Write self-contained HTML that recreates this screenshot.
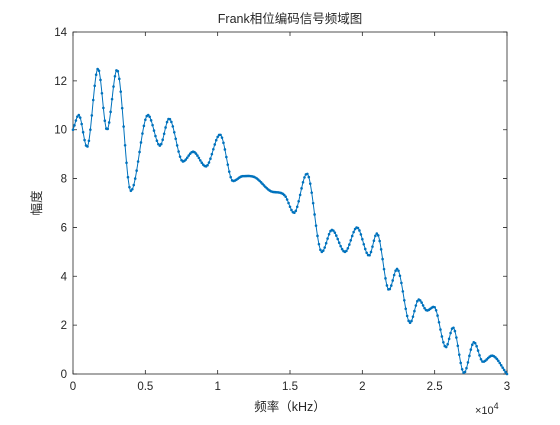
<!DOCTYPE html>
<html><head><meta charset="utf-8"><style>
body{margin:0;background:#fff}
svg text{font-family:"Liberation Sans","Noto Sans CJK SC",sans-serif;fill:#262626}
</style></head><body>
<svg id="c" width="560" height="420" xmlns="http://www.w3.org/2000/svg">
<rect width="560" height="420" fill="#fff"/>
<rect x="73" y="32" width="434" height="342" fill="#fff" stroke="#262626" stroke-width="0.8"/>
<g id="ticks"></g>
<g id="series"></g>
<text x="290" y="23" font-size="12.5" text-anchor="middle">Frank相位编码信号频域图</text>
<text x="290" y="411" font-size="12.5" text-anchor="middle">频率（kHz）</text>
<text transform="translate(41,203) rotate(-90)" font-size="12.5" text-anchor="middle">幅度</text>
<text x="475" y="414" font-size="11">×10<tspan dy="-5" font-size="9">4</tspan></text>
</svg>
<script>
const xKeys=[0,400,970,1730,2350,3040,4000,5180,6010,6640,7600,8300,9190,10160,11060,11750,12580,13620,14650,15280,16170,17200,17900,18800,19630,20460,21010,21840,22400,23300,23900,24470,24950,25780,26270,27030,27720,28340,28960,30000];
const yKeys=[10.0,10.6,9.3,12.5,10.0,12.45,7.5,10.6,9.35,10.45,8.7,9.1,8.5,9.8,7.9,8.1,8.05,7.5,7.3,6.6,8.2,5.0,5.9,5.0,6.0,4.85,5.75,3.45,4.3,2.1,3.05,2.6,2.75,1.1,1.9,0.05,1.3,0.5,0.75,0.0];
const xTickVals=[0,5000,10000,15000,20000,25000,30000];
const xTickLabels=["0","0.5","1","1.5","2","2.5","3"];
const yTickVals=[0,2,4,6,8,10,12,14];
const yTickLabels=["0","2","4","6","8","10","12","14"];
const markerCount=300;
const X0=73,X1=507,Y0=374,Y1=32;
const sx=v=>X0+(v-0)/(30000-0)*(X1-X0);
const sy=v=>Y0-(v-0)/(14-0)*(Y0-Y1);
const NS="http://www.w3.org/2000/svg";
const tg=document.getElementById('ticks');
function mk(t,a,p){const e=document.createElementNS(NS,t);for(const k in a)e.setAttribute(k,a[k]);p.appendChild(e);return e;}
xTickVals.forEach((v,i)=>{const x=sx(v);
 const l=mk('path',{d:`M${x},${Y0}v-4M${x},${Y1}v4`,stroke:'#262626','stroke-width':0.8},tg);
 
 
 const t=mk('text',{x:x,y:Y0+16,'font-size':11.5,'text-anchor':'middle'},tg);t.textContent=xTickLabels[i];
 
 
});
yTickVals.forEach((v,i)=>{const y=sy(v);
 const l=mk('path',{d:`M${X0},${y}h4M${X1},${y}h-4`,stroke:'#262626','stroke-width':0.8},tg);
 
 
 const t=mk('text',{x:X0-6,y:y+4,'font-size':11.5,'text-anchor':'end'},tg);t.textContent=yTickLabels[i];
 
 
});
const n=xKeys.length;
const m=[];
for(let i=0;i<n;i++){
 if(i==0||i==n-1){const j=i==0?1:n-1,k=i==0?0:n-2;m.push((yKeys[j]-yKeys[k])/(xKeys[j]-xKeys[k]));continue;}
 const d0=(yKeys[i]-yKeys[i-1])/(xKeys[i]-xKeys[i-1]),d1=(yKeys[i+1]-yKeys[i])/(xKeys[i+1]-xKeys[i]);
 m.push(d0*d1<=0?0:(d0+d1)/2);
}
function curve(x){
 let i=0;while(i<n-2&&x>xKeys[i+1])i++;
 const h=xKeys[i+1]-xKeys[i],t=(x-xKeys[i])/h,t2=t*t,t3=t2*t;
 return (2*t3-3*t2+1)*yKeys[i]+(t3-2*t2+t)*h*m[i]+(-2*t3+3*t2)*yKeys[i+1]+(t3-t2)*h*m[i+1];
}
const xmin=xKeys[0],xmax=xKeys[n-1];
let d='',pts=[];
for(let k=0;k<=1200;k++){const x=xmin+(xmax-xmin)*k/1200;d+=(k?'L':'M')+sx(x).toFixed(2)+','+sy(curve(x)).toFixed(2);}
const sg=document.getElementById('series');
const line=mk('path',{d:d,fill:'none',stroke:'#0072BD','stroke-width':1},sg);


let md='';
for(let k=0;k<=markerCount;k++){const x=xmin+(xmax-xmin)*k/markerCount;const X=sx(x),Y=sy(curve(x));md+=`M${(X-1.3).toFixed(2)},${Y.toFixed(2)}a1.3,1.3 0 1,0 2.6,0a1.3,1.3 0 1,0 -2.6,0`;}
const dots=mk('path',{d:md,fill:'#0072BD',stroke:'none'},sg);


</script>
</body></html>
